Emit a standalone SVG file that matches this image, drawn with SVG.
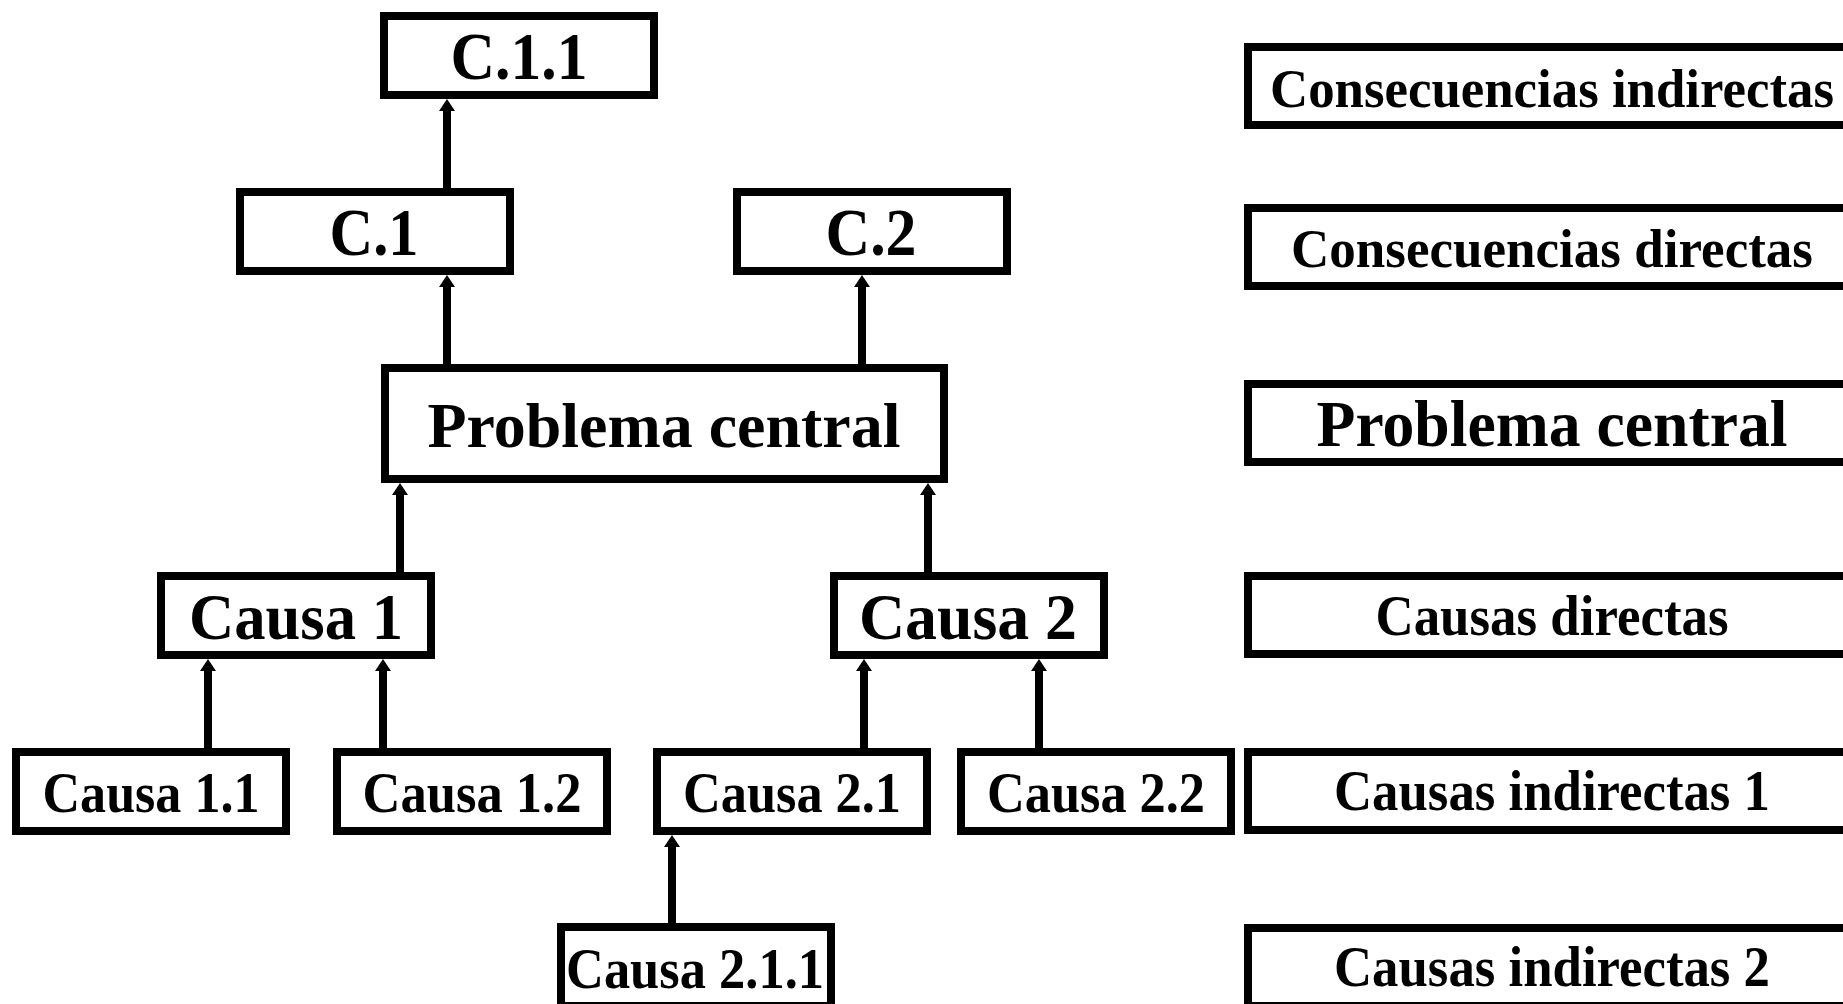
<svg xmlns="http://www.w3.org/2000/svg" width="1843" height="1004" viewBox="0 0 1843 1004">
<style>
.box{fill:#fff;stroke:#000;stroke-width:8}
.t{font-family:"Liberation Serif","Times New Roman",serif;font-weight:bold;fill:#000;text-anchor:middle}
.c{stroke:#000;stroke-width:8;fill:none;marker-end:url(#ah)}
</style>
<defs>
<marker id="ah" markerUnits="userSpaceOnUse" viewBox="0 0 12 16" refX="0" refY="8" markerWidth="12" markerHeight="16" orient="auto">
<path d="M0,0 L12,8 L0,16 z" fill="#000"/>
</marker>
</defs>
<rect width="1843" height="1004" fill="#fff"/>
<g id="connectors">
<line class="c" x1="447" y1="190" x2="447" y2="111"/>
<line class="c" x1="447" y1="366" x2="447" y2="287"/>
<line class="c" x1="862" y1="366" x2="862" y2="287"/>
<line class="c" x1="400" y1="574" x2="400" y2="495"/>
<line class="c" x1="928" y1="574" x2="928" y2="495"/>
<line class="c" x1="208" y1="750" x2="208" y2="671"/>
<line class="c" x1="383" y1="750" x2="383" y2="671"/>
<line class="c" x1="864" y1="750" x2="864" y2="671"/>
<line class="c" x1="1039" y1="750" x2="1039" y2="671"/>
<line class="c" x1="672" y1="925" x2="672" y2="847"/>
</g>
<g id="c11"><rect class="box" x="384" y="16" width="270" height="79"/><text class="t" x="519" y="79" font-size="68" textLength="137" lengthAdjust="spacingAndGlyphs">C.1.1</text></g>
<g id="c1"><rect class="box" x="240" y="192" width="270" height="79"/><text class="t" x="374" y="255" font-size="68" textLength="89" lengthAdjust="spacingAndGlyphs">C.1</text></g>
<g id="c2"><rect class="box" x="737" y="192" width="270" height="79"/><text class="t" x="871" y="255" font-size="68" textLength="91" lengthAdjust="spacingAndGlyphs">C.2</text></g>
<g id="problema"><rect class="box" x="385" y="368" width="559" height="111"/><text class="t" x="664" y="447" font-size="64" textLength="473" lengthAdjust="spacingAndGlyphs">Problema central</text></g>
<g id="causa1"><rect class="box" x="161" y="576" width="270" height="79"/><text class="t" x="296" y="639" font-size="66" textLength="214" lengthAdjust="spacingAndGlyphs">Causa 1</text></g>
<g id="causa2"><rect class="box" x="834" y="576" width="270" height="79"/><text class="t" x="968" y="639" font-size="66" textLength="218" lengthAdjust="spacingAndGlyphs">Causa 2</text></g>
<g id="causa11"><rect class="box" x="16" y="752" width="270" height="79"/><text class="t" x="151" y="812" font-size="58" textLength="217" lengthAdjust="spacingAndGlyphs">Causa 1.1</text></g>
<g id="causa12"><rect class="box" x="337" y="752" width="270" height="79"/><text class="t" x="472" y="812" font-size="58" textLength="219" lengthAdjust="spacingAndGlyphs">Causa 1.2</text></g>
<g id="causa21"><rect class="box" x="657" y="752" width="270" height="79"/><text class="t" x="792" y="812" font-size="58" textLength="218" lengthAdjust="spacingAndGlyphs">Causa 2.1</text></g>
<g id="causa22"><rect class="box" x="961" y="752" width="270" height="79"/><text class="t" x="1096" y="812" font-size="58" textLength="218" lengthAdjust="spacingAndGlyphs">Causa 2.2</text></g>
<g id="causa211"><rect class="box" x="561" y="927" width="270" height="79"/><text class="t" x="695" y="988" font-size="58" textLength="258" lengthAdjust="spacingAndGlyphs">Causa 2.1.1</text></g>
<g id="lbl-cons-ind"><rect class="box" x="1248" y="47" width="608" height="78"/><text class="t" x="1552" y="107" font-size="55" textLength="564" lengthAdjust="spacingAndGlyphs">Consecuencias indirectas</text></g>
<g id="lbl-cons-dir"><rect class="box" x="1248" y="208" width="608" height="78"/><text class="t" x="1552" y="267" font-size="55" textLength="522" lengthAdjust="spacingAndGlyphs">Consecuencias directas</text></g>
<g id="lbl-problema"><rect class="box" x="1248" y="384" width="608" height="78"/><text class="t" x="1552" y="446" font-size="65" textLength="471" lengthAdjust="spacingAndGlyphs">Problema central</text></g>
<g id="lbl-causas-dir"><rect class="box" x="1248" y="576" width="608" height="78"/><text class="t" x="1552" y="635" font-size="56" textLength="353" lengthAdjust="spacingAndGlyphs">Causas directas</text></g>
<g id="lbl-causas-ind1"><rect class="box" x="1248" y="752" width="608" height="78"/><text class="t" x="1552" y="810" font-size="56" textLength="436" lengthAdjust="spacingAndGlyphs">Causas indirectas 1</text></g>
<g id="lbl-causas-ind2"><rect class="box" x="1248" y="928" width="608" height="78"/><text class="t" x="1552" y="986" font-size="56" textLength="436" lengthAdjust="spacingAndGlyphs">Causas indirectas 2</text></g>
</svg>
